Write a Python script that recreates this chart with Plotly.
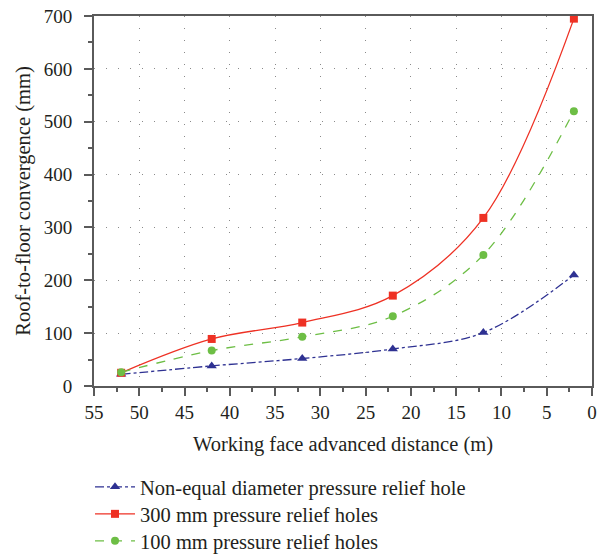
import plotly.graph_objects as go

distance = [52, 42, 32, 22, 12, 2]
non_equal = [22, 38, 52, 70, 101, 210]
mm300 = [25, 89, 120, 171, 318, 695]
mm100 = [26, 67, 93, 132, 248, 520]

series_names = ["Non-equal diameter pressure relief hole",
                "300 mm pressure relief holes",
                "100 mm pressure relief holes"]

x_ticks = [55, 50, 45, 40, 35, 30, 25, 20, 15, 10, 5, 0]
y_ticks = [0, 100, 200, 300, 400, 500, 600, 700]

FONT = "Liberation Serif"
TXT = "#231F20"
fig = go.Figure()
fig.add_trace(go.Scatter(x=distance, y=non_equal, name=series_names[0], mode="lines+markers",
                         legend="legend",
                         line=dict(color="#2E3192", width=1.3, dash="dashdot", shape="spline"),
                         marker=dict(symbol="triangle-up", size=9, color="#2E3192")))
fig.add_trace(go.Scatter(x=distance, y=mm300, name=series_names[1], mode="lines+markers",
                         legend="legend2",
                         line=dict(color="#EE3124", width=1.3, shape="spline"),
                         marker=dict(symbol="square", size=8, color="#EE3124")))
fig.add_trace(go.Scatter(x=distance, y=mm100, name=series_names[2], mode="lines+markers",
                         legend="legend3",
                         line=dict(color="#6DBE45", width=1.3, dash="dash", shape="spline"),
                         marker=dict(symbol="circle", size=8, color="#6DBE45")))

axis_common = dict(showline=True, linecolor="#5a5a5a", linewidth=2, mirror=True,
                   ticks="outside", tickcolor="#5a5a5a", tickwidth=1.5, ticklen=8,
                   showgrid=True, gridcolor="#8a8a8a", griddash="1px,11px", gridwidth=1.3,
                   zeroline=False, automargin=False, ticklabeloverflow="allow",
                   tickfont=dict(family=FONT, size=19, color=TXT))

fig.update_xaxes(range=[55, 0], tickvals=x_ticks, autorange=False,
                 minor=dict(ticks="outside", ticklen=4, dtick=2.5, tick0=0, tickcolor="#5a5a5a", showgrid=False),
                 title=dict(text="Working face advanced distance (m)", font=dict(family=FONT, size=20.5, color=TXT)),
                 **axis_common)
fig.update_yaxes(range=[0, 700], tickvals=y_ticks, ticklabelstandoff=8,
                 minor=dict(ticks="outside", ticklen=4, dtick=50, tick0=0, tickcolor="#5a5a5a", showgrid=False),
                 title=dict(text="Roof-to-floor convergence (mm)", font=dict(family=FONT, size=20.5, color=TXT),
                            standoff=8),
                 **axis_common)

leg = dict(x=-0.008, xanchor="left", yanchor="middle",
           font=dict(family=FONT, size=20.5, color=TXT),
           itemwidth=40, bgcolor="rgba(0,0,0,0)")

fig.update_layout(width=597, height=555, paper_bgcolor="white", plot_bgcolor="white",
                  margin=dict(l=94, r=5, t=16, b=169, autoexpand=False),
                  showlegend=True,
                  legend=dict(y=-0.2730, **leg),
                  legend2=dict(y=-0.3460, **leg),
                  legend3=dict(y=-0.4190, **leg))

fig.write_html("out.html", config={"displayModeBar": False},
               post_script="document.body.style.margin='0';document.documentElement.style.overflow='hidden';")
